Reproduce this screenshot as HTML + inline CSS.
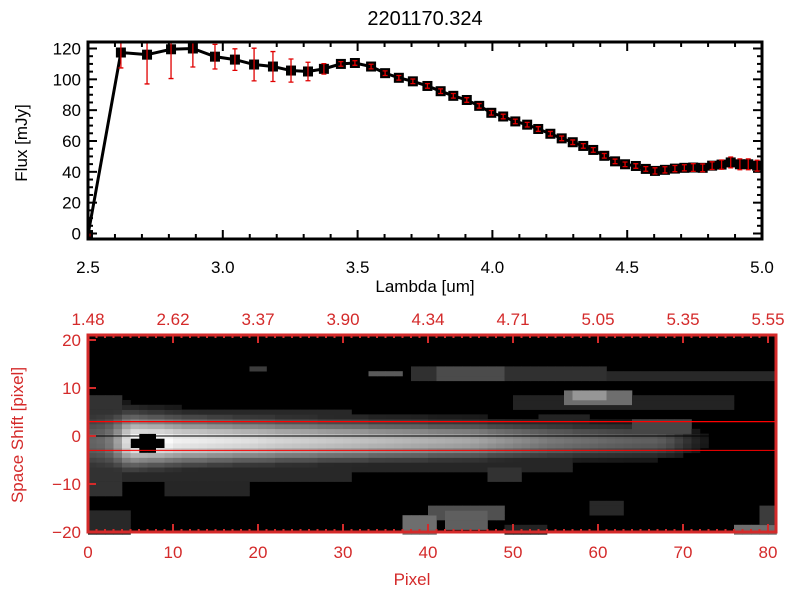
<!DOCTYPE html>
<html><head><meta charset="utf-8"><style>
html,body{margin:0;padding:0;background:#fff;}
svg{display:block;font-family:"Liberation Sans",sans-serif;}
</style></head><body>
<svg id="chart" width="800" height="600" viewBox="0 0 800 600" xmlns="http://www.w3.org/2000/svg">
<rect x="0" y="0" width="800" height="600" fill="#fff"/>
<defs><clipPath id="topclip"><rect x="88" y="42" width="674" height="197"/></clipPath></defs>
<g id="topPlot"></g>
<g id="botPlot"></g>
</svg>
<script>
// ---- spectrum data ----
const lambdas = [2.50,2.622,2.719,2.808,2.889,2.971,3.045,3.116,3.186,3.253,3.316,3.375,3.438,3.490,3.550,3.602,3.653,3.705,3.759,3.808,3.855,3.905,3.951,3.996,4.040,4.085,4.129,4.170,4.215,4.257,4.298,4.337,4.374,4.415,4.455,4.492,4.532,4.569,4.603,4.640,4.677,4.712,4.745,4.780,4.815,4.850,4.884,4.918,4.949,4.982];
const flux = [-1,117.4,116,119.5,120,114.7,112.8,109.6,108.3,105.7,105.1,106.8,110,110.6,108.3,104,101,98.7,95.7,92.3,89.3,86.6,82.8,78.3,75.9,72.7,70.6,67.8,64.7,61.7,59.2,56.8,54.2,50.4,46.8,44.9,43.8,41.9,40.6,41.3,42.1,42.6,42.8,42.6,44,44.7,46.1,44.9,44.9,44];
const fluxErr = [0.5,10,19,19,12,8,7,10.6,9.7,7.5,6,3.4,1.5,1.5,1.5,1.5,1.5,1.5,1.5,1.5,1.5,1.5,1.5,1.5,1.5,1.5,1.5,1.5,1.5,1.5,1.5,1.5,1.5,1.5,1.5,1.5,1.5,1.5,2,2,2,2,2.5,2.5,2.5,3,3.5,3.5,3.5,3.5];
const xTicks = ["2.5","3.0","3.5","4.0","4.5","5.0"];
const yTicks = ["0","20","40","60","80","100","120"];
// ---- image data ----
const pixTicks = ["0","10","20","30","40","50","60","70","80"];
const lamTopTicks = ["1.48","2.62","3.37","3.90","4.34","4.71","5.05","5.35","5.55"];
const shiftTicks = ["-20","-10","0","10","20"];
const traceCenter = -1;
const tracePeak = [100,105,120,160,220,255,255,255,255,250,240,238,236,234,232,230,228,226,224,222,218,215,212,210,208,206,204,202,200,198,196,194,192,190,188,186,184,182,180,178,176,174,172,170,168,165,160,155,150,145,140,135,130,125,120,118,115,112,110,108,105,102,100,98,96,95,95,90,80,65,50,35,25,0,0,0,0,0,0,0,0];
const traceWidth = [4.5,4.5,4.3,4.0,3.8,3.6,3.5,3.4,3.4,3.3,3.3,3.2,3.2,3.2,3.1,3.1,3.1,3.0,3.0,3.0,3.0,3.0,2.9,2.9,2.9,2.9,2.9,2.8,2.8,2.8,2.8,2.8,2.8,2.7,2.7,2.7,2.7,2.7,2.7,2.7,2.6,2.6,2.6,2.6,2.6,2.6,2.6,2.5,2.5,2.5,2.5,2.5,2.5,2.5,2.5,2.5,2.5,2.4,2.4,2.4,2.4,2.4,2.4,2.4,2.4,2.4,2.4,2.3,2.3,2.3,2.3,2.2,2.2,2.2,2.2,2.2,2.2,2.2,2.2,2.2,2.2];
const blobs = [[0,3,-12,8,50],[3,30,-9,5,40],[9,18,-12,-9,38],[30,56,-7,3,38],[38,60,12,14,48],[41,48,12,14,75],[60,80,12,13,40],[56,63,7,9,110],[57,60,8,9,150],[50,75,6,8,35],[53,58,1,4,35],[64,70,1,3,70],[33,36,13,13,90],[19,20,14,14,60],[0,4,-20,-16,40],[37,40,-20,-17,110],[40,48,-17,-15,80],[42,46,-19,-16,95],[49,53,-20,-19,35],[59,62,-16,-14,40],[76,80,-20,-19,110],[79,80,-18,-15,60],[47,50,-9,-7,50]];
const saturated = [[5,8,-2,-1],[6,7,-3,0]];

const NS="http://www.w3.org/2000/svg";
function mk(tag,attrs,parent){const e=document.createElementNS(NS,tag);for(const k in attrs)e.setAttribute(k,attrs[k]);parent.appendChild(e);return e;}
const topG=document.getElementById('topPlot'), botG=document.getElementById('botPlot');
const X0=88,X1=762,Y0=233.5,Y1=48.5;
const sx=l=>X0+(l-2.5)/2.5*(X1-X0);
const sy=f=>Y0+(f-0)/120*(Y1-Y0);
const tt=mk('text',{x:425,y:25,'font-size':20,'text-anchor':'middle',fill:'#000'},topG);tt.textContent='2201170.324';


for(let i=0;i<=25;i++){const x=sx(2.5+i*0.1);const L=i%5==0?9:5;
 mk('line',{x1:x,y1:239,x2:x,y2:239-L,stroke:'#000','stroke-width':2},topG);
 mk('line',{x1:x,y1:42,x2:x,y2:42+L,stroke:'#000','stroke-width':2},topG);}
xTicks.forEach((t,i)=>{const e=mk('text',{x:sx(2.5+i*0.5),y:273,'font-size':17,'text-anchor':'middle',fill:'#000'},topG);e.textContent=t;
 
 });
for(let v=0;v<=120;v+=5){const y=sy(v);const L=v%20==0?9:5;
 mk('line',{x1:88,y1:y,x2:88+L,y2:y,stroke:'#000','stroke-width':2},topG);
 mk('line',{x1:762,y1:y,x2:762-L,y2:y,stroke:'#000','stroke-width':2},topG);}
yTicks.forEach((t,i)=>{const e=mk('text',{x:81,y:sy(i*20)+6,'font-size':17,'text-anchor':'end',fill:'#000'},topG);e.textContent=t;
 
 });
let e=mk('text',{x:425,y:292,'font-size':17,'text-anchor':'middle',fill:'#000'},topG);e.textContent='Lambda [um]';


e=mk('text',{x:0,y:0,'font-size':17,'text-anchor':'middle',fill:'#000',transform:'translate(27,143) rotate(-90)'},topG);e.textContent='Flux [mJy]';


const g=mk('g',{'clip-path':'url(#topclip)'},topG);
const line=mk('polyline',{points:lambdas.map((l,i)=>sx(l)+','+sy(flux[i])).join(' '),fill:'none',stroke:'#000','stroke-width':3},g);


lambdas.forEach((l,i)=>{const x=sx(l),y=sy(flux[i]);
 const m=mk('rect',{x:x-5,y:y-5,width:10,height:10,fill:'#000'},g);
 
 
 const ya=sy(flux[i]+fluxErr[i]),yb=sy(flux[i]-fluxErr[i]);
 const eb=mk('path',{d:`M${x},${ya}V${yb}M${x-2.5},${ya}H${x+2.5}M${x-2.5},${yb}H${x+2.5}`,stroke:'#e00000','stroke-width':1.3,fill:'none'},g);
 
 });
mk('rect',{x:88,y:42,width:674,height:197,fill:'none',stroke:'#000','stroke-width':3},topG);

const RED='#d42a2a';
const BX0=88,CW=8.5,BY0=436,RH=4.8;
const px=p=>BX0+p*CW;
const py=s=>BY0-s*RH;
const cells=[];
for(let c=0;c<81;c++){cells.push([]);for(let s=-20;s<=20;s++){
 const w=traceWidth[c];let v=tracePeak[c]*Math.exp(-((s-traceCenter)**2)/(2*w*w));if(v<22)v=0;cells[c].push(v);}}
blobs.forEach(b=>{for(let c=b[0];c<=b[1];c++)for(let s=b[2];s<=b[3];s++){const k=s+20;cells[c][k]=Math.max(cells[c][k],b[4]);}});
saturated.forEach(b=>{for(let c=b[0];c<=b[1];c++)for(let s=b[2];s<=b[3];s++)cells[c][s+20]=-1;});
mk('rect',{x:88,y:335,width:688,height:197,fill:'#000'},botG);
for(let c=0;c<81;c++)for(let s=-20;s<=20;s++){let v=cells[c][s+20];if(v<=0)continue;v=Math.round(Math.min(255,v));
 const r=mk('rect',{x:px(c),y:py(s+0.5),width:CW+0.3,height:RH+0.3,fill:`rgb(${v},${v},${v})`},botG);
 
 }
const l1=mk('line',{x1:88,y1:py(3),x2:776,y2:py(3),stroke:'#ff0000','stroke-width':1.3},botG);


const l2=mk('line',{x1:88,y1:py(-3),x2:776,y2:py(-3),stroke:'#ff0000','stroke-width':1},botG);


const l3=mk('line',{x1:88,y1:py(0),x2:776,y2:py(0),stroke:'#000','stroke-width':1},botG);


mk('rect',{x:88,y:335,width:688,height:197,fill:'none',stroke:RED,'stroke-width':3},botG);
for(let p=0;p<=81;p++){const x=px(p);const L=p%10==0?8:3;
 mk('line',{x1:x,y1:532,x2:x,y2:532-L,stroke:RED,'stroke-width':2},botG);
 mk('line',{x1:x,y1:335,x2:x,y2:335+L,stroke:RED,'stroke-width':2},botG);}
for(let s=-20;s<=20;s+=10){mk('line',{x1:88,y1:py(s),x2:96,y2:py(s),stroke:RED,'stroke-width':2},botG);}
pixTicks.forEach((t,i)=>{const e=mk('text',{x:px(i*10),y:558,'font-size':17,'text-anchor':'middle',fill:RED},botG);e.textContent=t;
 
 });
lamTopTicks.forEach((t,i)=>{const e=mk('text',{x:px(i*10),y:325,'font-size':17,'text-anchor':'middle',fill:RED},botG);e.textContent=t;
 
 });
shiftTicks.forEach((t,i)=>{const e=mk('text',{x:81,y:py(-20+i*10)+6,'font-size':17,'text-anchor':'end',fill:RED},botG);e.textContent=t.replace('-','\u2212');
 
 });
e=mk('text',{x:412,y:585,'font-size':17,'text-anchor':'middle',fill:RED},botG);e.textContent='Pixel';


e=mk('text',{x:0,y:0,'font-size':17,'text-anchor':'middle',fill:RED,transform:'translate(23,435) rotate(-90)'},botG);e.textContent='Space Shift [pixel]';


</script>
</body></html>
